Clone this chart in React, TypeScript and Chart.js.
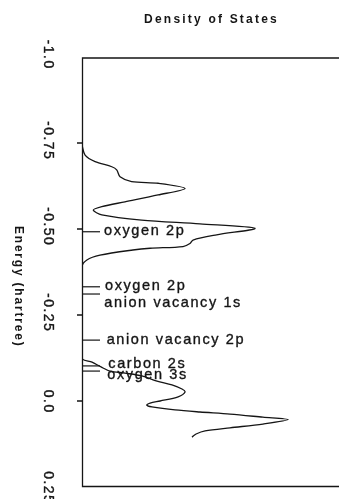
import React, { useEffect, useRef } from "react";
import { Chart, registerables } from "chart.js";

Chart.register(...registerables);

// ---------- data ----------
const TITLE = "Density of States";
const AXIS_TITLE = "Energy (hartree)";
const TICK_VALUES = [-1.0, -0.75, -0.5, -0.25, 0.0, 0.25];
const TICK_LABELS = ["-1.0", "-0.75", "-0.50", "-0.25", "0.0", "0.25"];
const TICK_MARKS = [-0.75, -0.5, -0.25, 0.0];

// energy (hartree) along the curve, and density of states (arbitrary units, 0-100)
const ENERGY = [
  -0.744, -0.715, -0.696, -0.681, -0.672, -0.652, -0.638, -0.633, -0.618, -0.599,
  -0.579, -0.565, -0.555, -0.541, -0.526, -0.515, -0.502, -0.483, -0.468, -0.458,
  -0.449, -0.444, -0.439, -0.424, -0.41, -0.39, -0.125, -0.113, -0.099, -0.087,
  -0.081, -0.073, -0.058, -0.047, -0.035, -0.026, -0.012, 0.0, 0.006, 0.012,
  0.017, 0.026, 0.032, 0.038, 0.047, 0.054, 0.067, 0.078, 0.087, 0.096, 0.105,
];
const DENSITY = [
  0, 1.2, 5.1, 11.6, 13.5, 14.8, 19.3, 29.7, 40.1, 29.6,
  16.7, 7.7, 4.4, 7.7, 23.2, 45.9, 67.3, 52.4, 43.2, 42.0,
  39.3, 26.5, 19.8, 7.0, 1.9, 0, 0, 3.9, 7.4, 10.9,
  16.7, 23.3, 29.2, 35.0, 38.9, 40.1, 37.4, 30.4, 26.5, 25.2,
  27.2, 36.2, 45.9, 57.6, 70.4, 80.2, 70.4, 57.6, 47.9, 44.4, 42.8,
];

const STATE_LABELS = [
  "oxygen 2p",
  "oxygen 2p",
  "anion vacancy 1s",
  "anion vacancy 2p",
  "carbon 2s",
  "oxygen 3s",
];
const STATE_ENERGY = [-0.492, -0.332, -0.311, -0.177, -0.102, -0.087];

// ---------- layout / style ----------
const INK = "#151515";
const FONT = '"Liberation Sans", Arial, Helvetica, sans-serif';
const LABEL_DX = [22, 23, 22.3, 24.7, 26.3, 25.3];
const LABEL_DY = [3.3, 3.3, 12.7, 4.3, 2.3, 8.3];

function heavyText(ctx: any, txt: string, x: number, y: number) {
  ctx.fillText(txt, x, y);
  ctx.strokeText(txt, x, y);
}

const overlay = {
  id: "overlay",
  afterDraw(chart: any) {
    const { ctx, chartArea: a, scales } = chart;
    const ys = scales.y;
    ctx.save();
    ctx.strokeStyle = INK;
    ctx.fillStyle = INK;
    ctx.lineWidth = 1.3;

    // frame
    ctx.beginPath();
    ctx.moveTo(a.right, a.top + 1);
    ctx.lineTo(a.left + 0.5, a.top + 1);
    ctx.lineTo(a.left + 0.5, a.bottom - 0.5);
    ctx.lineTo(a.right, a.bottom - 0.5);
    ctx.stroke();

    // tick marks
    ctx.beginPath();
    for (const v of TICK_MARKS) {
      const py = ys.getPixelForValue(v);
      ctx.moveTo(a.left - 5, py);
      ctx.lineTo(a.left + 0.5, py);
    }
    ctx.stroke();

    ctx.lineWidth = 0.35;
    ctx.lineJoin = "round";

    // tick labels, rotated clockwise
    ctx.font = `14px ${FONT}`;
    (ctx as any).letterSpacing = "1.5px";
    ctx.textAlign = "left";
    ctx.textBaseline = "alphabetic";
    TICK_VALUES.forEach((v, i) => {
      const label = TICK_LABELS[i];
      const neg = label.startsWith("-");
      const num = neg ? label.slice(1) : label;
      const wNum = ctx.measureText(num).width - 1.5;
      const wMinus = neg ? ctx.measureText("-").width : 0;
      const py = ys.getPixelForValue(v);
      ctx.save();
      ctx.translate(43.5, py);
      ctx.rotate(Math.PI / 2);
      heavyText(ctx, label, -wNum / 2 - wMinus, 0);
      ctx.restore();
    });

    // axis title
    ctx.font = `bold 12px ${FONT}`;
    (ctx as any).letterSpacing = "1.8px";
    ctx.save();
    ctx.translate(14.5, 286.7);
    ctx.rotate(Math.PI / 2);
    ctx.textAlign = "center";
    ctx.fillText(AXIS_TITLE, 0, 0);
    ctx.restore();

    // chart title
    ctx.font = `bold 12px ${FONT}`;
    (ctx as any).letterSpacing = "2.2px";
    ctx.textAlign = "center";
    ctx.fillText(TITLE, (a.left + a.right) / 2 + 1, 23.3);

    // state labels with leader lines
    ctx.font = `14.5px ${FONT}`;
    (ctx as any).letterSpacing = "1.6px";
    ctx.textAlign = "left";
    STATE_LABELS.forEach((txt, i) => {
      const py = ys.getPixelForValue(STATE_ENERGY[i]);
      ctx.lineWidth = 1.2;
      ctx.beginPath();
      ctx.moveTo(a.left, py);
      ctx.lineTo(a.left + 18, py);
      ctx.stroke();
      ctx.lineWidth = 0.35;
      heavyText(ctx, txt, a.left + LABEL_DX[i], py + LABEL_DY[i]);
    });

    ctx.restore();
  },
};

export default function App() {
  const ref = useRef<HTMLCanvasElement | null>(null);

  useEffect(() => {
    if (!ref.current) return;
    const points = ENERGY.map((e, i) => ({ x: DENSITY[i], y: e }));
    const chart = new Chart(ref.current, {
      type: "scatter",
      data: {
        datasets: [
          {
            data: points,
            showLine: true,
            borderColor: INK,
            borderWidth: 1.3,
            pointRadius: 0,
            tension: 0.3,
            fill: false,
          },
        ],
      },
      options: {
        responsive: false,
        animation: false,
        events: [],
        layout: { padding: { left: 82, top: 57, right: 0, bottom: 12 } },
        plugins: {
          legend: { display: false },
          tooltip: { enabled: false },
          title: { display: false },
        },
        scales: {
          x: { type: "linear", min: 0, max: 100, display: false },
          y: {
            type: "linear",
            min: -1.0,
            max: 0.25,
            reverse: true,
            display: false,
            ticks: { stepSize: 0.25 },
          },
        },
      },
      plugins: [overlay],
    });
    return () => chart.destroy();
  }, []);

  return (
    <div
      style={{
        position: "fixed",
        left: 0,
        top: 0,
        width: 339,
        height: 499,
        background: "#fff",
      }}
    >
      <canvas ref={ref} width={339} height={499} style={{ display: "block" }} />
    </div>
  );
}
